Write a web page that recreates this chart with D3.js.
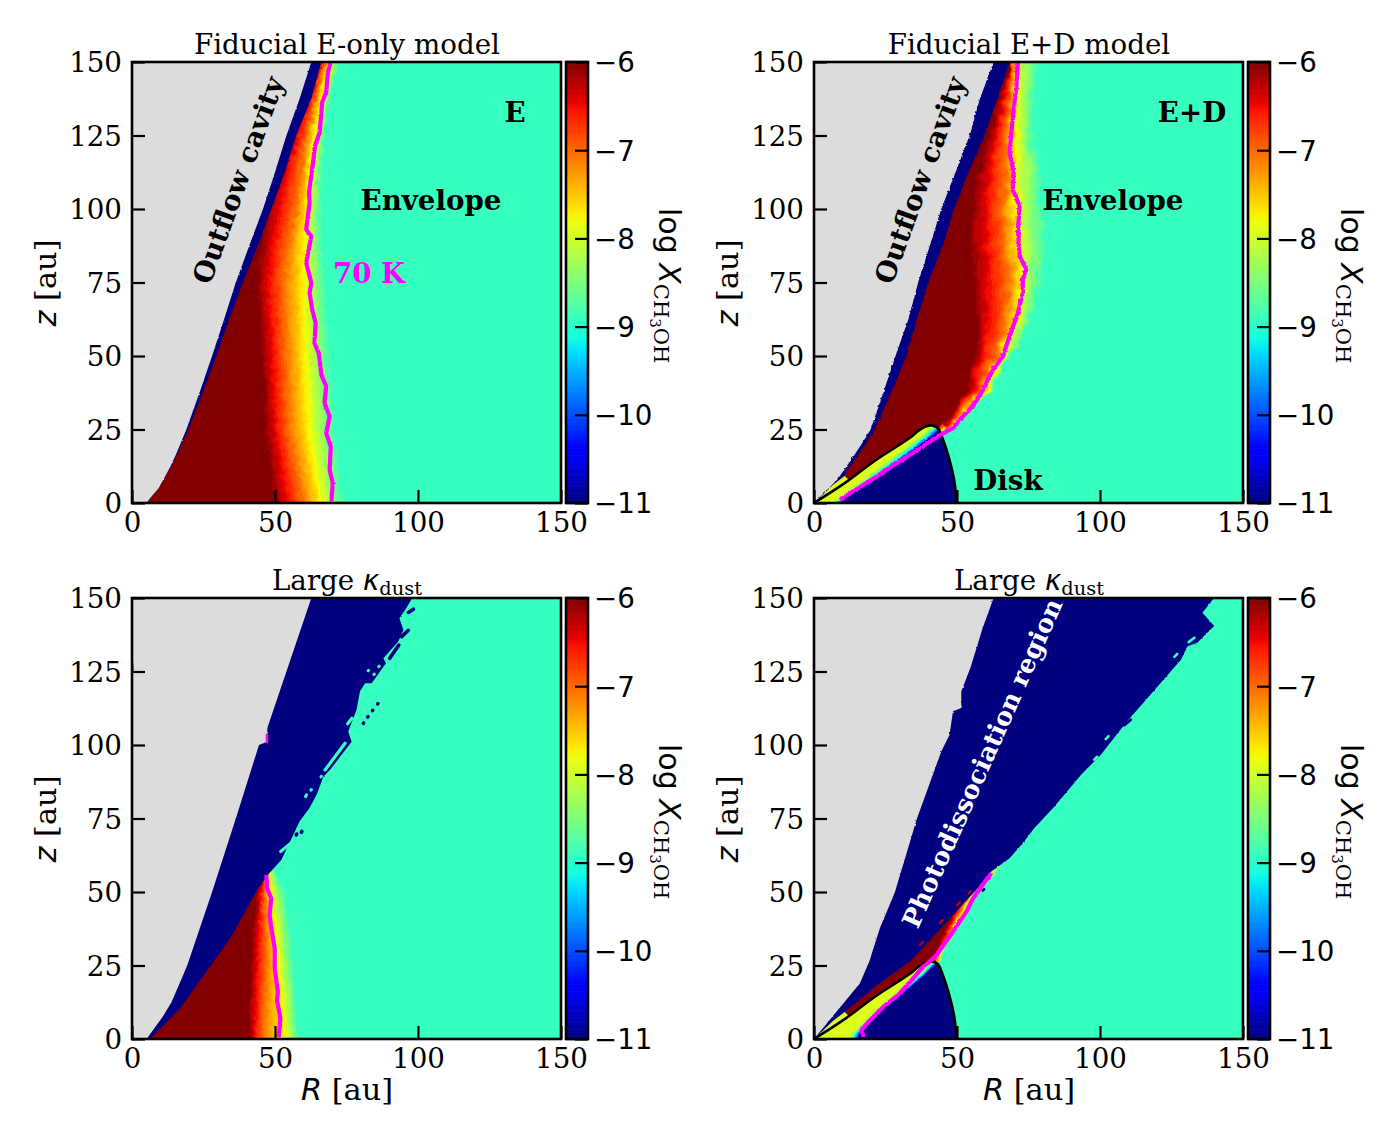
<!DOCTYPE html>
<html>
<head>
<meta charset="utf-8">
<style>
body { margin: 0; background: #fff; }
text { font-family: "DejaVu Serif"; fill: #000; }
.tick text { font-size: 27.7px; font-family: "DejaVu Serif"; }
.cbar .tick text { font-family: "DejaVu Sans"; }
</style>
<script src="https://cdn.jsdelivr.net/npm/d3@7"></script>
</head>
<body>
<div id="chart"></div>
<script>
// tick labels
var axisTicks = [0, 50, 100, 150];
var zTicks = [0, 25, 50, 75, 100, 125, 150];
var cbarTicks = [-6, -7, -8, -9, -10, -11];

// log X at the contours
var contourLevels = [-6.02, -7.0, -7.8, -8.92];
var diskLevels = [-7.9, -8.3, -9.1, -10.4];

// disk surface (panels E+D)
var diskR = [0, 10.2, 21.8, 33.3, 36.8, 39, 41, 43.2, 44.9, 47.2, 49, 49.9];
var diskZ = [0, 6.4, 14.7, 22, 24.8, 26, 26.4, 25.6, 22.1, 15.3, 7.8, 0];
var diskRows = [0, 2, 9, 17, 22, 25, 27];

// panel A : E-only
var edgeRowsA = [0, 1.6, 5, 7.8, 12.5, 17, 25, 37.5, 50, 62.5, 75, 87.5, 100, 112.5, 125, 137.5, 150];
var cavityA = [5.1, 6.3, 9.3, 10.9, 13.5, 15.6, 19, 23.6, 28, 32.2, 36.3, 41, 45.8, 50, 54, 58.6, 62.7];
var innerA = [5.2, 6.4, 9.4, 11, 13.8, 16, 19.7, 24.8, 29.5, 34, 38.8, 44, 48.7, 53.4, 57.4, 62.7, 66.2];
var rowsA = [0, 12.5, 25, 37.5, 50, 62.5, 75, 87.5, 100, 112.5, 125, 137.5, 150];
var redEndA = [50.5, 48.5, 47, 46.5, 45.8, 45, 44, 45.5, 47.5, 51, 56, 61, 65.6];
var orangeA = [60, 57.5, 55, 54.5, 54, 53.5, 53, 54.5, 57.4, 59, 61, 64, 67.3];
var yellowA = [66.7, 64.5, 62.7, 62, 61.5, 61, 61, 61, 61.5, 62.5, 64, 66.5, 69];
var fadeA = [75, 73.5, 72, 71, 70, 69, 68, 67, 66.7, 67, 68, 70, 73];
var tempRA = [69.7, 70.2, 69.1, 69.5, 67.9, 69.1, 67.3, 67.9, 66.2, 65.3, 63.8, 64.2, 63, 62.1, 62.7, 60.9, 62.7, 60.9, 62.1, 61.9, 63.3, 64, 65.6, 66.5, 67.9, 68.5, 69.4];
var tempZA = [0.5, 6.7, 11.3, 19.2, 23.8, 29.4, 34, 39.7, 43.6, 51, 54.4, 61.3, 65.8, 71.5, 74.9, 81.7, 90.8, 93, 102.2, 105.6, 115.8, 121.5, 126, 136.3, 139.7, 146.5, 149.9];

// panel B : E+D
var edgeRowsB = [0, 8, 15, 20, 25, 37.5, 50, 62.5, 75, 87.5, 100, 112.5, 125, 137.5, 150];
var cavityB = [0, 8.2, 13.2, 16.6, 19.8, 24.2, 28.5, 33, 36.4, 40.5, 44.5, 49.5, 54.4, 58, 62.8];
var innerB = [0.3, 9.5, 14.5, 18, 21.3, 27, 32.3, 36, 40, 45, 49, 54, 59.7, 64, 68.4];
var rowsB = [0, 20, 26, 37.5, 50, 62.5, 75, 87.5, 100, 112.5, 125, 137.5, 150];
var redEndB = [25, 33, 45, 53, 56.7, 57.3, 56, 55.6, 55.6, 58, 61.4, 65, 68.4];
var orangeB = [25, 34, 47.4, 57.3, 63, 67, 68.4, 67, 66, 67, 67, 68.4, 69.5];
var yellowB = [25, 35, 48.6, 60, 66, 71.3, 73, 72, 71.3, 71.3, 70.7, 71.3, 71.9];
var fadeB = [25, 36, 49.8, 61.4, 69.5, 76.5, 80, 81.7, 80.6, 80, 77.7, 77.7, 78.8];
var tempRB = [9.1, 12.5, 21.9, 33.5, 44.4, 48.6, 50.9, 54.4, 57.9, 62.6, 66, 68.4, 71.3, 73, 73, 74.2, 71.9, 71.3, 71.9, 69.5, 69.8, 68.4, 69, 70.1, 70.7, 71.3];
var tempZB = [1, 3.2, 9, 16.3, 23.3, 25.5, 28.3, 31.7, 36.3, 45.3, 49.9, 56.7, 64.7, 71.5, 76, 79.4, 84, 93, 101, 106.7, 112.4, 119.2, 126, 136.3, 140.8, 149.9];
var blueDiskB = [8.8, 11.3, 21.5, 33.4, 40.5, 44, 45];
var cyanDiskB = [8, 10.5, 20.7, 31.9, 38.8, 42.2, 44];
var greenDiskB = [7, 9.6, 19.5, 30.3, 37, 41, 43];
var yellowDiskB = [6, 8.5, 18, 28.8, 35.4, 39.5, 42];
var sliverR = [0.3, 6.6, 10.7, 12, 6];
var sliverZ = [0.2, 6.1, 9.2, 8, 3.6];

// panel C : large kappa, E-only
var cavityRowsC = [0, 1.6, 7.8, 12.5, 17, 25, 50, 75, 100, 101, 106, 125, 150];
var cavityC = [5.1, 6.3, 10.9, 13.8, 15.8, 19.3, 28, 36.3, 44.4, 47, 47.4, 54, 62.7];
var innerRowsC = [0, 10.3, 26.2, 35.3, 51.2, 56.4, 60.9, 74, 78.5, 83.2, 89.2, 91.5, 101.1, 104.6, 111.9, 118.2, 121, 121, 127.8, 129.5, 135.2, 139.1, 143.1, 145.9, 149.3];
var innerC = [6.3, 16.7, 28.4, 35, 44, 48, 52.2, 58.6, 62, 64.6, 66.9, 69.2, 76.8, 75.6, 78.5, 79.7, 81.5, 83.8, 88.8, 87.9, 93.1, 94.9, 93.5, 95.5, 97.6];
var rowsC = [0, 12.5, 25, 37.5, 50, 56, 60];
var redEndC = [41, 41.2, 41.7, 42.3, 44, 45, 46];
var orangeC = [45.8, 46.4, 47, 47, 46.4, 47, 47];
var yellowC = [54, 53, 51.6, 50.5, 48.7, 48, 48];
var fadeC = [58.6, 58, 57, 55.8, 54, 50.5, 50];
var tempRC = [51.3, 51.9, 50.7, 51, 49.9, 49.9, 48.7, 48.1, 48.7, 47.2, 47];
var tempZC = [0.7, 6.9, 13.2, 16, 24, 30.8, 37.6, 42.2, 47.8, 51.3, 55.8];
// short slits and specks left by the grid: [R1, z1, R2, z2]
var slitsEnvC = [[67.5, 91.5, 74.5, 100.6], [75.4, 107.2, 76.9, 109.1], [82.6, 125.3, 82.7, 125.4], [86.3, 126.7, 86.4, 126.8], [84.6, 124, 84.7, 124.1], [66.1, 89.2, 66.2, 89.3], [62.6, 84.7, 62.7, 84.8], [60.7, 82.5, 61, 83], [52, 63.8, 56.3, 67.2], [58, 71.5, 59.5, 73]];
var slitsNavyC = [[85.9, 114, 86, 114.1], [84.1, 111.7, 84.2, 111.8], [82.4, 109.5, 82.5, 109.6], [80.9, 107.4, 81, 107.5], [96.6, 145.1, 98.4, 146.2], [94.3, 136.8, 96.6, 139], [90.1, 129.5, 93.3, 134], [57.4, 69.4, 57.6, 69.7], [59.2, 70.3, 59.4, 70.6]];
var markTempC = [[0.2, 125.5, 0.2, 127.5], [47.2, 101, 47.2, 103.5]];

// panel D : large kappa, E+D
var cavityRowsD = [0, 18.9, 26.3, 37.6, 50, 75, 97.8, 103.5, 111.5, 112.6, 118.3, 126.3, 139.9, 150];
var cavityD = [0, 16, 19.3, 23, 28.3, 36, 44.5, 47.4, 48.6, 51.5, 51.5, 54.7, 59, 62.8];
var innerRowsD = [0, 9.2, 18.3, 26.3, 33, 39.9, 46.7, 50.7, 57, 61.5, 66.6, 71.7, 79, 89.9, 96.7, 107.5, 129, 133.6, 134.8, 140.5, 145, 150];
var innerD = [0.3, 10.8, 21.9, 33.5, 40, 46.4, 52.9, 56.7, 62, 68.4, 73, 77, 84, 93.4, 100.3, 109, 128.3, 130.6, 134, 139.9, 135.8, 139.9];
var rowsD = [0, 15, 20, 26, 36.5, 49, 55.8, 61];
var redEndD = [20, 26, 33, 41, 45.7, 52, 58, 62];
var orangeD = [20, 26, 33, 42.5, 47.5, 54, 60, 64];
var yellowD = [20, 26, 33, 43, 48.2, 55.5, 61.5, 65.5];
var fadeD = [20, 26, 33, 43.5, 49.5, 57.5, 63.5, 67.5];
var tempRD = [17.4, 16.6, 19, 24.2, 29.4, 34.7, 38.1, 41, 42.8, 48.6, 53.3, 55.6, 59.7, 62];
var tempZD = [0.7, 3, 5.8, 10.9, 14.9, 20.6, 24.5, 26.8, 28.5, 36.5, 43.3, 47.8, 53.5, 56.4];
var blueDiskD = [15.5, 16.3, 23, 33, 39, 42, 45];
var cyanDiskD = [13.5, 15, 22, 32, 38, 41, 44];
var greenDiskD = [12.5, 14, 21, 31, 37, 40, 43];
var yellowDiskD = [11.5, 13.2, 20, 30, 36, 39.5, 42];
var slitsNavyD = [[108.5, 106.7, 110.8, 108.6], [85, 83, 85.6, 83.7], [82, 79.5, 83, 80.5], [76, 74, 76.5, 74.5], [59, 50.5, 59.5, 51]];
var slitsEnvD = [[102, 102, 103, 103], [131, 135, 133, 136.5], [126, 130, 127, 131], [98, 95, 99, 96]];
var slitsRedD = [[37, 32, 38, 33], [44, 39.5, 45, 40.5], [50, 45.5, 51, 46.5], [54, 49.5, 54.6, 50.2]];

var panels = [
  { left: 132, top: 62, cavityRows: edgeRowsA, cavity: cavityA, innerRows: edgeRowsA, inner: innerA,
    rows: rowsA, contours: [redEndA, orangeA, yellowA, fadeA], tempR: tempRA, tempZ: tempZA,
    rough: [0.16, 7, 2], title: "plain", titleText: "Fiducial E-only model", xLabel: false },
  { left: 814, top: 62, cavityRows: edgeRowsB, cavity: cavityB, innerRows: edgeRowsB, inner: innerB,
    rows: rowsB, contours: [redEndB, orangeB, yellowB, fadeB], tempR: tempRB, tempZ: tempZB,
    disk: [yellowDiskB, greenDiskB, cyanDiskB, blueDiskB], sliver: true,
    rough: [0.09, 12, 3], title: "plain", titleText: "Fiducial E+D model", xLabel: false },
  { left: 132, top: 598, cavityRows: cavityRowsC, cavity: cavityC, innerRows: innerRowsC, inner: innerC,
    rows: rowsC, contours: [redEndC, orangeC, yellowC, fadeC], tempR: tempRC, tempZ: tempZC,
    slits: [{ list: slitsEnvC, level: -8.92, width: 3.2 }, { list: slitsNavyC, level: -11, width: 3.6 }], marks: markTempC,
    rough: [0.18, 5, 1.5], title: "kappa", xLabel: true },
  { left: 814, top: 598, cavityRows: cavityRowsD, cavity: cavityD, innerRows: innerRowsD, inner: innerD,
    rows: rowsD, contours: [redEndD, orangeD, yellowD, fadeD], tempR: tempRD, tempZ: tempZD,
    disk: [yellowDiskD, greenDiskD, cyanDiskD, blueDiskD], sliver: true,
    slits: [{ list: slitsEnvD, level: -8.92, width: 2.6 }, { list: slitsNavyD, level: -11, width: 2.6 }, { list: slitsRedD, level: -6.3, width: 2.2 }],
    rough: [0.2, 4, 2], title: "kappa", xLabel: true }
];

var notes = [
  { text: "Outflow cavity", x: 238, y: 180, rotate: -70, size: 27.5, color: "#000" },
  { text: "E", x: 515, y: 112, size: 27.7, color: "#000" },
  { text: "Envelope", x: 431, y: 200, size: 27.7, color: "#000" },
  { text: "70 K", x: 369, y: 273, size: 27.7, color: "#ff00ff" },
  { text: "Outflow cavity", x: 920, y: 180, rotate: -70, size: 27.5, color: "#000" },
  { text: "E+D", x: 1192, y: 112, size: 27.7, color: "#000" },
  { text: "Envelope", x: 1113, y: 200, size: 27.7, color: "#000" },
  { text: "Disk", x: 1008, y: 480, size: 27.7, color: "#000" },
  { text: "Photodissociation region", x: 982, y: 763, rotate: -66, size: 25.5, color: "#fff" }
];

// set svg vars
var svgWidth = 1400;
var svgHeight = 1140;
var plotW = 429;
var plotH = 441;
var tickLen = 13;

var svg = d3.select("#chart")
  .append("svg")
  .attr("width", svgWidth)
  .attr("height", svgHeight)
  .style("display", "block");

svg.append("rect").attr("width", svgWidth).attr("height", svgHeight).attr("fill", "#fff");
var defs = svg.append("defs");

// matplotlib jet, one piecewise scale per channel
var jetR = d3.scaleLinear().domain([0, 0.35, 0.66, 0.89, 1]).range([0, 0, 1, 1, 0.5]);
var jetG = d3.scaleLinear().domain([0, 0.125, 0.375, 0.64, 0.91, 1]).range([0, 0, 1, 1, 0, 0]);
var jetB = d3.scaleLinear().domain([0, 0.11, 0.34, 0.65, 1]).range([0.5, 1, 1, 0, 0]);
var levelScale = d3.scaleLinear().domain([-11, -6]).range([0, 1]).clamp(true);

function jet(level) {
  var f = levelScale(level);
  return d3.rgb(jetR(f) * 255, jetG(f) * 255, jetB(f) * 255).formatHex();
}

var xScale = d3.scaleLinear().domain([0, 150]).range([0, plotW]);
var yScale = d3.scaleLinear().domain([0, 150]).range([plotH, 0]);
var cbarScale = d3.scaleLinear().domain([-11, -6]).range([plotH, 0]);

// filled from left of the axis out to a curve R(z), run on past both ends of the rows
var leftArea = d3.area()
  .x0(-15)
  .x1(d => xScale(d[0]))
  .y(d => yScale(d[1]));

var curve = d3.line()
  .x(d => xScale(d[0]))
  .y(d => yScale(d[1]));

function pairs(rs, zs) {
  return rs.map((r, i) => [r, zs[i]]);
}

function fillPath(rs, zs) {
  var pts = pairs(rs, zs);
  pts.unshift([rs[0], zs[0] - 6]);
  pts.push([rs[rs.length - 1], zs[zs.length - 1] + 6]);
  return leftArea(pts);
}

// ragged cell edges of the model grid
function makeRough(id, freq, scale, seed) {
  var f = defs.append("filter")
    .attr("id", id)
    .attr("filterUnits", "userSpaceOnUse")
    .attr("x", -30).attr("y", -30)
    .attr("width", plotW + 60).attr("height", plotH + 60)
    .attr("color-interpolation-filters", "sRGB");
  f.append("feTurbulence")
    .attr("type", "fractalNoise")
    .attr("baseFrequency", freq)
    .attr("numOctaves", 2)
    .attr("seed", seed)
    .attr("result", "noise");
  f.append("feDisplacementMap")
    .attr("in", "SourceGraphic")
    .attr("in2", "noise")
    .attr("scale", scale)
    .attr("xChannelSelector", "R")
    .attr("yChannelSelector", "G");
}

// nested fills between contours, outermost first, to make the colour ramp smooth
function drawContours(g, rows, contours, levels) {
  var steps = 8;
  for (var k = contours.length - 2; k >= 0; k--) {
    for (var s = steps; s >= (k == 0 ? 0 : 1); s--) {
      var t = s / steps;
      var rs = contours[k].map((r, i) => r + (contours[k + 1][i] - r) * t);
      g.append("path")
        .attr("d", fillPath(rs, rows))
        .attr("fill", jet(levels[k] + (levels[k + 1] - levels[k]) * t));
    }
  }
}

function drawSlits(g, list, color, w) {
  g.selectAll(null)
    .data(list)
    .enter()
    .append("line")
    .attr("x1", d => xScale(d[0]))
    .attr("y1", d => yScale(d[1]))
    .attr("x2", d => xScale(d[2]))
    .attr("y2", d => yScale(d[3]))
    .attr("stroke", color)
    .attr("stroke-width", w)
    .attr("stroke-linecap", "round");
}

panels.forEach(function(p, i) {
  var chartGroup = svg.append("g")
    .attr("transform", `translate(${p.left}, ${p.top})`);

  defs.append("clipPath").attr("id", "clip" + i)
    .append("rect").attr("width", plotW).attr("height", plotH);

  makeRough("rampRough" + i, p.rough[0], p.rough[1], i + 3);
  makeRough("edgeRough" + i, 0.35, p.rough[2], i + 7);

  var field = chartGroup.append("g").attr("clip-path", `url(#clip${i})`);

  // envelope background, then ramp, navy wedge, cavity
  field.append("rect").attr("width", plotW).attr("height", plotH).attr("fill", jet(-8.92));
  var ramp = field.append("g").attr("filter", `url(#rampRough${i})`);
  drawContours(ramp, p.rows, p.contours, contourLevels);

  var edges = field.append("g").attr("filter", `url(#edgeRough${i})`);
  edges.append("path").attr("d", fillPath(p.inner, p.innerRows)).attr("fill", jet(-11));
  edges.append("path").attr("d", fillPath(p.cavity, p.cavityRows)).attr("fill", "#dcdcdc");

  if (p.slits) {
    p.slits.forEach(s => drawSlits(field, s.list, jet(s.level), s.width));
  }
  if (p.marks) {
    drawSlits(field, p.marks, "#ff00ff", 2.5);
  }

  if (p.disk) {
    field.append("path")
      .attr("d", curve(pairs(sliverR, sliverZ)) + "Z")
      .attr("fill", jet(-7.9));

    var diskPath = curve.curve(d3.curveCatmullRom)(pairs(diskR, diskZ));
    curve.curve(d3.curveLinear);
    defs.append("clipPath").attr("id", "disk" + i)
      .append("path").attr("d", diskPath + "Z");

    var inDisk = field.append("g").attr("clip-path", `url(#disk${i})`);
    inDisk.append("rect").attr("width", plotW).attr("height", plotH).attr("fill", jet(-11));
    var diskRamp = inDisk.append("g").attr("filter", `url(#edgeRough${i})`);
    drawContours(diskRamp, diskRows, p.disk, diskLevels);

    field.append("path")
      .attr("d", diskPath)
      .attr("fill", "none")
      .attr("stroke", "#000")
      .attr("stroke-width", 2.6);
  }

  // 70 K contour
  field.append("path")
    .attr("d", curve(pairs(p.tempR, p.tempZ)))
    .attr("fill", "none")
    .attr("stroke", "#ff00ff")
    .attr("stroke-width", 4.2)
    .attr("stroke-linejoin", "round")
    .attr("filter", `url(#edgeRough${i})`);

  // axes, ticks point inwards
  var bottomAxis = d3.axisBottom(xScale).tickValues(axisTicks).tickSize(-tickLen).tickPadding(9).tickFormat(d3.format("d"));
  var leftAxis = d3.axisLeft(yScale).tickValues(zTicks).tickSize(-tickLen).tickPadding(10).tickFormat(d3.format("d"));

  var xAxisG = chartGroup.append("g").attr("transform", `translate(0, ${plotH})`).call(bottomAxis);
  var yAxisG = chartGroup.append("g").call(leftAxis);
  [xAxisG, yAxisG].forEach(a => {
    a.select(".domain").remove();
    a.selectAll(".tick line").attr("stroke", "#000").attr("stroke-width", 2.2);
  });
  yAxisG.selectAll(".tick text").attr("dy", "0.36em");

  chartGroup.append("rect")
    .attr("width", plotW)
    .attr("height", plotH)
    .attr("fill", "none")
    .attr("stroke", "#000")
    .attr("stroke-width", 2.6);

  // colour bar
  var cbar = chartGroup.append("g").attr("class", "cbar").attr("transform", `translate(${plotW + 5}, 0)`);
  var cbarLevels = d3.range(0, 256).map(v => -11 + v * 5 / 255);
  cbar.selectAll("rect.level")
    .data(cbarLevels)
    .enter()
    .append("rect")
    .attr("class", "level")
    .attr("x", 0)
    .attr("width", 22)
    .attr("y", d => cbarScale(d) - 1.2)
    .attr("height", 2.4)
    .attr("fill", d => jet(d));

  var cbarAxis = d3.axisRight(cbarScale).tickValues(cbarTicks).tickSize(-tickLen).tickPadding(6).tickFormat(d => "\u2212" + Math.abs(d));
  var cbarG = cbar.append("g").attr("transform", "translate(22, 0)").call(cbarAxis);
  cbarG.select(".domain").remove();
  cbarG.selectAll(".tick line").attr("stroke", "#000").attr("stroke-width", 2.2);
  cbarG.selectAll(".tick text").attr("dy", "0.36em");

  cbar.append("rect")
    .attr("width", 22)
    .attr("height", plotH)
    .attr("fill", "none")
    .attr("stroke", "#000")
    .attr("stroke-width", 2.6);

  // colour bar label, reads top to bottom
  var cbLabel = chartGroup.append("text")
    .attr("transform", `translate(${plotW + 98}, 146) rotate(90)`)
    .style("font-size", "30px");
  cbLabel.append("tspan").style("font-family", "DejaVu Sans").text("log ");
  cbLabel.append("tspan").style("font-family", "DejaVu Sans").style("font-style", "italic").text("X");
  cbLabel.append("tspan").attr("dy", 5).style("font-size", "21px").text("CH");
  cbLabel.append("tspan").attr("dy", 4).style("font-size", "15px").text("3");
  cbLabel.append("tspan").attr("dy", -4).style("font-size", "21px").text("OH");

  // y label
  var yLabel = chartGroup.append("text")
    .attr("transform", `translate(${-76}, ${plotH / 2 + 0.5}) rotate(-90)`)
    .attr("text-anchor", "middle")
    .style("font-size", "30.4px");
  yLabel.append("tspan").style("font-family", "DejaVu Sans").style("font-style", "italic").text("z");
  yLabel.append("tspan").text(" [au]");

  if (p.xLabel) {
    var xLabel = chartGroup.append("text")
      .attr("x", plotW / 2 + 0.5)
      .attr("y", plotH + 61)
      .attr("text-anchor", "middle")
      .style("font-size", "30.4px");
    xLabel.append("tspan").style("font-family", "DejaVu Sans").style("font-style", "italic").text("R");
    xLabel.append("tspan").text(" [au]");
  }

  // title
  var title = chartGroup.append("text")
    .attr("x", plotW / 2 + 0.5)
    .attr("y", -8)
    .attr("text-anchor", "middle")
    .style("font-size", "27.7px");
  if (p.title == "plain") {
    title.text(p.titleText);
  } else {
    title.append("tspan").text("Large ");
    title.append("tspan").style("font-family", "DejaVu Sans").style("font-style", "italic").text("\u03ba");
    title.append("tspan").attr("dy", 5).style("font-size", "19.4px").text("dust");
  }
});

// annotations are placed in page pixels
notes.forEach(function(n) {
  svg.append("text")
    .attr("transform", `translate(${n.x}, ${n.y}) rotate(${n.rotate || 0})`)
    .attr("text-anchor", "middle")
    .attr("dy", "0.36em")
    .style("font-size", n.size + "px")
    .style("font-weight", "bold")
    .style("fill", n.color)
    .text(n.text);
});
</script>
</body>
</html>
